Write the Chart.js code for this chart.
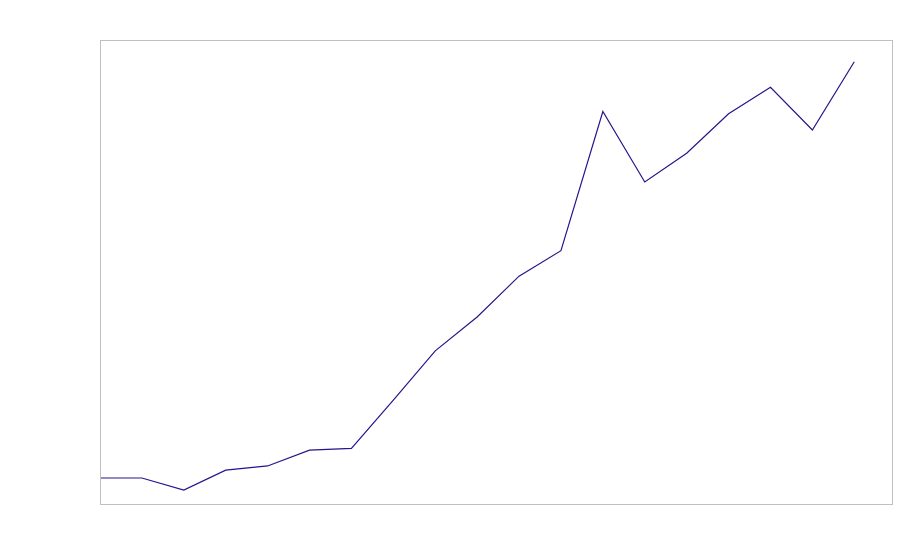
<!DOCTYPE html>
<html>
<head>
<meta charset="utf-8">
<script src="https://cdn.jsdelivr.net/npm/chart.js@4/dist/chart.umd.min.js"></script>
<style>
html,body{margin:0;padding:0;background:#fff;}
#c{display:block;}
</style>
</head>
<body>
<canvas id="c" width="900" height="560"></canvas>
<script>
// Data (unlabelled axes; relative units 0-100)
const categories = [0,1,2,3,4,5,6,7,8,9,10,11,12,13,14,15,16,17,18];
const values = [5.6,5.6,3.0,7.3,8.2,11.6,12.0,22.4,33.0,40.3,49.1,54.6,84.6,69.4,75.6,84.1,89.8,80.6,95.3];
const xRange = [0, 18.9];
const yRange = [0, 100];

const points = categories.map((c, i) => ({x: c, y: values[i]}));

const frame = {
  id: 'frame',
  afterDraw(chart) {
    const a = chart.chartArea, ctx = chart.ctx;
    ctx.save();
    ctx.strokeStyle = '#c0c0c0';
    ctx.lineWidth = 1;
    ctx.strokeRect(Math.round(a.left) + 0.5, Math.round(a.top) + 0.5,
                   Math.round(a.right - a.left), Math.round(a.bottom - a.top));
    ctx.restore();
  }
};

new Chart(document.getElementById('c'), {
  type: 'line',
  data: {
    datasets: [{
      data: points,
      borderColor: '#2a128c',
      borderWidth: 1.2,
      pointRadius: 0,
      fill: false,
      tension: 0
    }]
  },
  options: {
    responsive: false,
    animation: false,
    layout: { padding: { left: 100, top: 40, right: 8, bottom: 56 } },
    plugins: { legend: { display: false }, tooltip: { enabled: false } },
    scales: {
      x: { type: 'linear', min: xRange[0], max: xRange[1], display: false },
      y: { min: yRange[0], max: yRange[1], display: false }
    }
  },
  plugins: [frame]
});
</script>
</body>
</html>
